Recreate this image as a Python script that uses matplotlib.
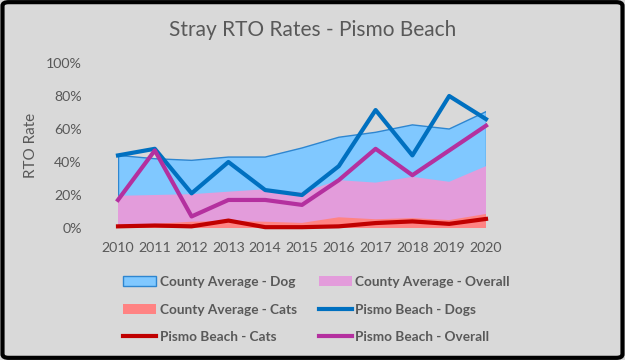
import matplotlib
matplotlib.use("Agg")
import matplotlib.pyplot as plt
from matplotlib.patches import Patch, FancyBboxPatch
from matplotlib.lines import Line2D
from matplotlib.ticker import PercentFormatter

plt.rcParams['font.family'] = ['Lato', 'DejaVu Sans']

years = [2010, 2011, 2012, 2013, 2014, 2015, 2016, 2017, 2018, 2019, 2020]
county_dog = [44, 42, 41, 43, 43, 48.5, 55, 58, 62.5, 60, 70.5]
county_overall = [19.5, 20, 20.5, 22, 23.5, 21.5, 29, 27.5, 31, 28, 37.5]
county_cats = [2, 2.5, 3.8, 4.3, 3.8, 3.1, 6.5, 5.3, 6, 4.8, 8.5]
pismo_dogs = [44, 48, 21, 40, 23, 20, 37.5, 71.5, 44, 80, 66]
pismo_cats = [1, 1.5, 1, 4.5, 0.5, 0.5, 1, 3, 4, 2.5, 5.5]
pismo_overall = [17, 47, 7, 17, 17, 14, 29, 48, 32, 47, 62]

c_dogfill = '#80C8FF'
c_dogedge = '#2E86D0'
c_overallfill = '#E39CDB'
c_catsfill = '#FF8383'
c_pdogs = '#0070C0'
c_pcats = '#C00000'
c_poverall = '#B4309F'
txt = '#595959'

fig = plt.figure(figsize=(6.25, 3.6), dpi=100, facecolor='#D9D9D9')
ax = fig.add_axes([118/625, 1-228/360, (486-118)/625, (228-63)/360])
ax.set_facecolor('#D9D9D9')

ax.fill_between(years, county_dog, 0, facecolor=c_dogfill, edgecolor='none', zorder=1)
ax.plot(years, county_dog, color=c_dogedge, lw=1, zorder=1.5)
ax.plot([years[0], years[0]], [0, county_dog[0]], color=c_dogedge, lw=1, zorder=1.5)
ax.plot([years[-1], years[-1]], [0, county_dog[-1]], color=c_dogedge, lw=1, zorder=1.5)
ax.fill_between(years, county_overall, 0, facecolor=c_overallfill, edgecolor='none', zorder=2)
ax.fill_between(years, county_cats, 0, facecolor=c_catsfill, edgecolor='none', zorder=3)

ax.plot(years, pismo_dogs, color=c_pdogs, lw=3, zorder=5, clip_on=False)
ax.plot(years, pismo_cats, color=c_pcats, lw=3, zorder=6, clip_on=False)
ax.plot(years, pismo_overall, color=c_poverall, lw=3, zorder=5, clip_on=False)

ax.set_xlim(years[0], years[-1])
ax.set_ylim(0, 100)
ax.set_yticks([0, 20, 40, 60, 80, 100])
ax.yaxis.set_major_formatter(PercentFormatter(decimals=0))
ax.set_xticks(years)
for s in ax.spines.values():
    s.set_visible(False)
ax.tick_params(length=0, colors=txt, labelsize=10.2)
ax.tick_params(axis='y', pad=26)
ax.tick_params(axis='x', pad=10)
ax.set_ylabel('RTO Rate', color=txt, fontsize=11, labelpad=6)

fig.text(0.5, 1-30/360, 'Stray RTO Rates - Pismo Beach', ha='center', va='center',
         color=txt, fontsize=15)

handles = [
    Patch(facecolor=c_dogfill, edgecolor=c_dogedge, lw=1),
    Patch(facecolor=c_catsfill, edgecolor='none'),
    Line2D([], [], color=c_pcats, lw=3),
    Patch(facecolor=c_overallfill, edgecolor='none'),
    Line2D([], [], color=c_pdogs, lw=3),
    Line2D([], [], color=c_poverall, lw=3),
]
labels = ['County Average - Dog', 'County Average - Cats', 'Pismo Beach - Cats',
          'County Average - Overall', 'Pismo Beach - Dogs', 'Pismo Beach - Overall']
leg = fig.legend(handles, labels, ncol=2, loc='upper left',
                 bbox_to_anchor=(123/625, 1-276/360), frameon=False,
                 prop={'size': 9.8, 'weight': 'bold'}, handlelength=2.45,
                 handleheight=0.8, handletextpad=0.25, columnspacing=1.6,
                 labelspacing=1.15, borderpad=0, borderaxespad=0)
for t in leg.get_texts():
    t.set_color(txt)

border = FancyBboxPatch((0.004, 0.006), 0.992, 0.988, boxstyle='round,pad=0,rounding_size=0.01',
                        transform=fig.transFigure, facecolor='none', edgecolor='black', lw=3)
fig.patches.append(border)

fig.savefig('out.png', dpi=100, facecolor=fig.get_facecolor())
